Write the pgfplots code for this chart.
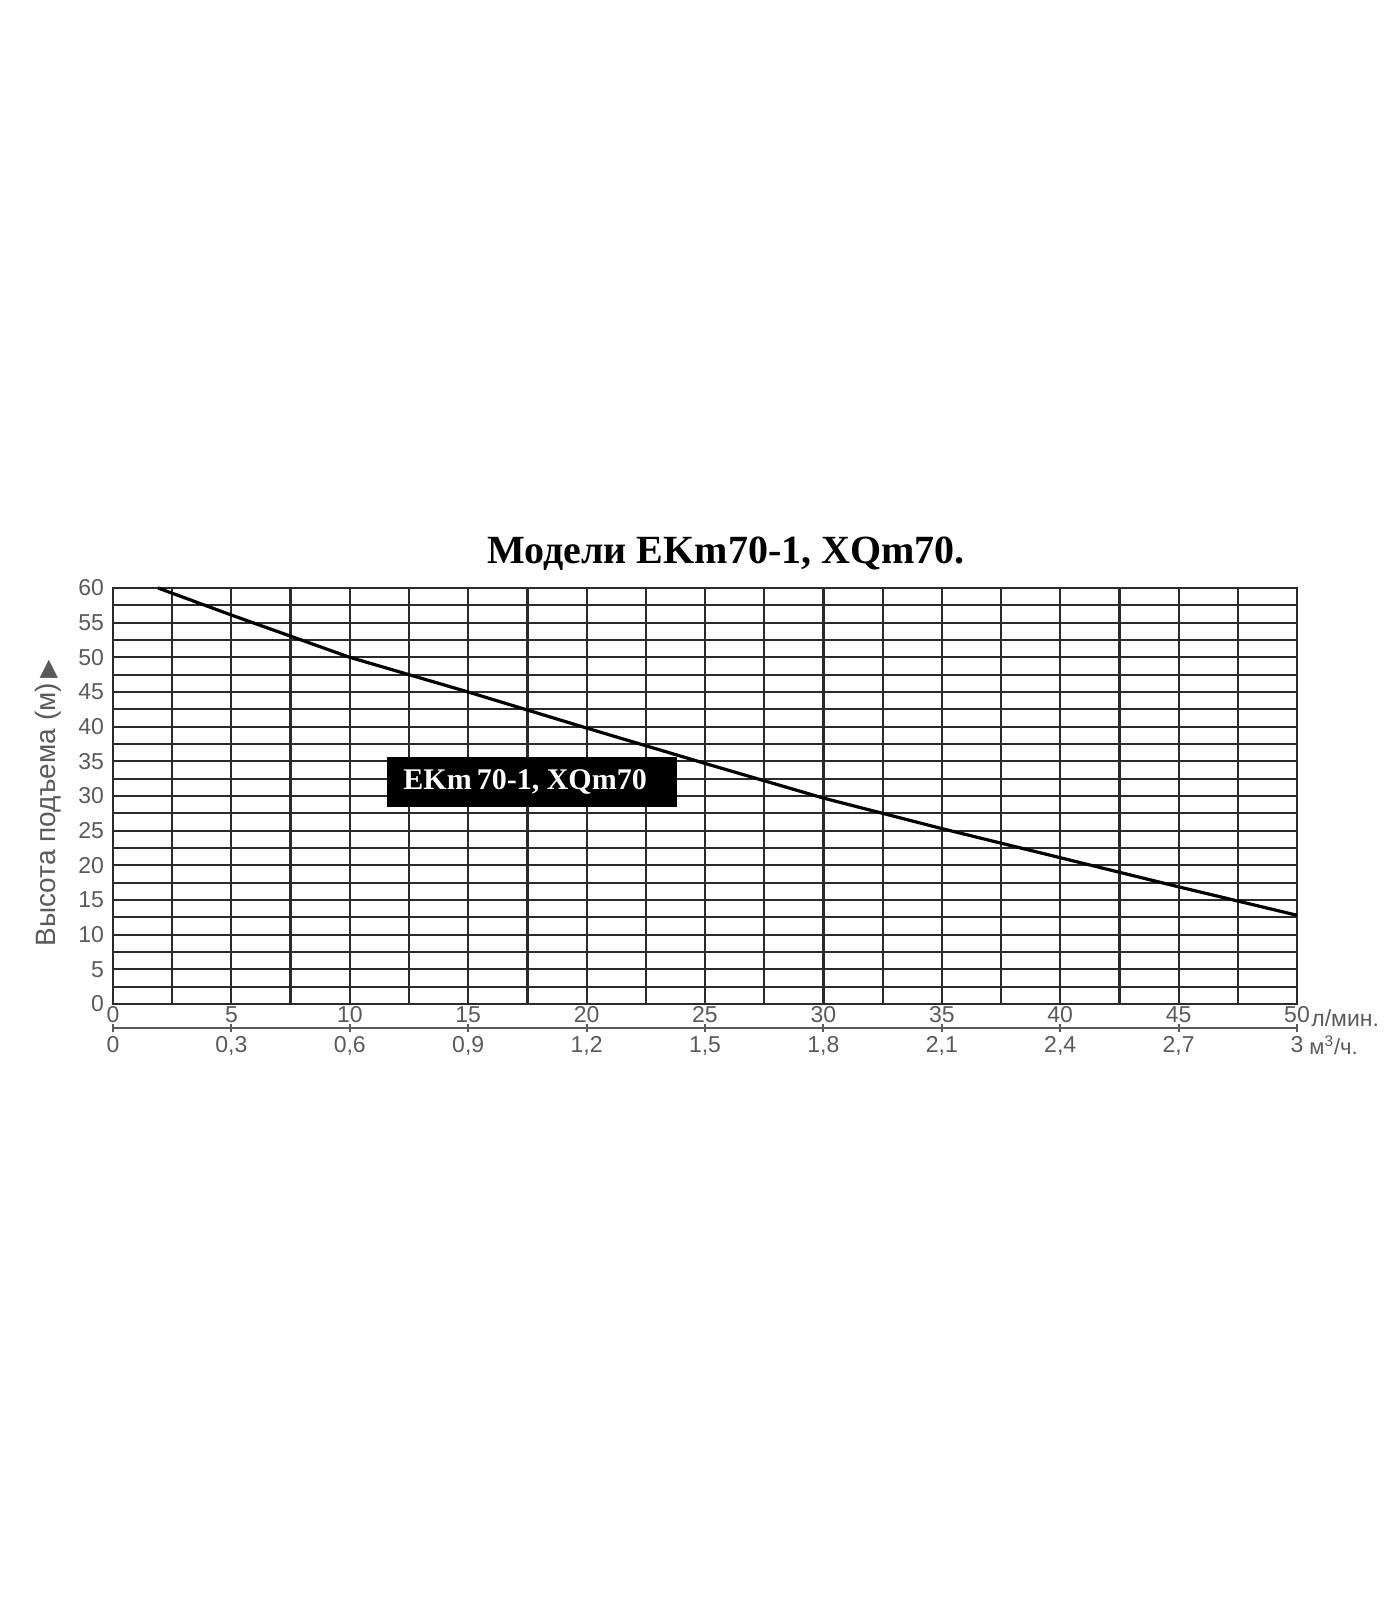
\documentclass[border=0pt]{standalone}
\usepackage{fontspec}
\setmainfont{Liberation Serif}
\setsansfont{Liberation Sans}
\newfontfamily\dejavu{DejaVu Sans}
\usepackage{pgfplots}
\pgfplotsset{compat=1.18}
\definecolor{tickgray}{HTML}{5A5A5A}
\definecolor{gridc}{HTML}{2A2A2A}
\begin{document}
\begin{tikzpicture}[x=1pt,y=1pt]
\begin{axis}[
  at={(0,0)}, anchor=south west,
  scale only axis, width=592pt, height=208pt,
  xmin=0, xmax=50, ymin=0, ymax=60,
  xtick={0,5,...,50}, ytick={0,5,...,60},
  minor xtick={2.5,7.5,...,47.5}, minor ytick={2.5,7.5,...,57.5},
  grid=both,
  major grid style={gridc, line width=1.1pt},
  minor grid style={gridc, line width=1.1pt},
  axis line style={gridc, line width=1.2pt},
  major tick length=0pt, minor tick length=0pt,
  tick label style={font=\sffamily\fontsize{11.5}{13}\selectfont, text=tickgray},
  /pgf/number format/assume math mode=true,
  xticklabel style={anchor=north, text height=8pt, text depth=0pt, inner sep=1pt, yshift=0pt},
  yticklabel style={xshift=-1pt},
  ylabel={Высота подъема (м)\,{\dejavu\fontsize{12}{12}\selectfont ▶}},
  ylabel style={font=\sffamily\fontsize{14}{16}\selectfont, text=tickgray, at={(axis description cs:-0.055,0.483)}, anchor=center},
  clip=false,
]
\addplot[black, line width=1.6pt] coordinates {
 (1.9,60) (5,56.1) (10,50) (15,45) (20,39.8) (25,34.7) (30,29.7) (35,25.3) (40,21.1) (45,16.9) (50,12.8)
};
\node[anchor=west, font=\sffamily\fontsize{11.5}{13}\selectfont, text=tickgray, inner sep=0pt] at (axis cs:50,0) [yshift=-7pt, xshift=7pt] {л/мин.};
\node[fill=black, text=white, font=\bfseries\fontsize{15}{17}\selectfont, minimum width=145pt, minimum height=25pt, inner sep=0pt] at (axis cs:17.7,32) {EKm\,70-1, XQm70\hspace*{7pt}};
\end{axis}
\begin{axis}[
  at={(0,-12pt)}, anchor=south west,
  scale only axis, width=592pt, height=1pt,
  xmin=0, xmax=3, ymin=0, ymax=1,
  hide y axis,
  axis x line*=bottom,
  axis line style={tickgray, line width=1pt, -},
  xtick={0,0.3,...,3.01},
  xticklabels={0,{0,3},{0,6},{0,9},{1,2},{1,5},{1,8},{2,1},{2,4},{2,7},3},
  tick align=center, major tick length=4pt,
  tick style={tickgray, line width=1pt},
  tick label style={font=\sffamily\fontsize{11.5}{13}\selectfont, text=tickgray},
  xticklabel style={anchor=north, text height=8pt, text depth=1pt, inner sep=1pt, yshift=-1pt},
  /pgf/number format/assume math mode=true,
  clip=false,
]
\node[anchor=west, font=\sffamily\fontsize{11}{13}\selectfont, text=tickgray, inner sep=0pt] at (axis cs:3,0) [yshift=-8.5pt, xshift=6pt] {м\textsuperscript{3}/ч.};
\end{axis}
\node[font=\bfseries\fontsize{20}{24}\selectfont] at (306.5pt,225pt) {Модели EKm70-1, XQm70.};
\path[use as bounding box] (-56.5pt,-298pt) rectangle (643.5pt,502pt);
\end{tikzpicture}
\end{document}
